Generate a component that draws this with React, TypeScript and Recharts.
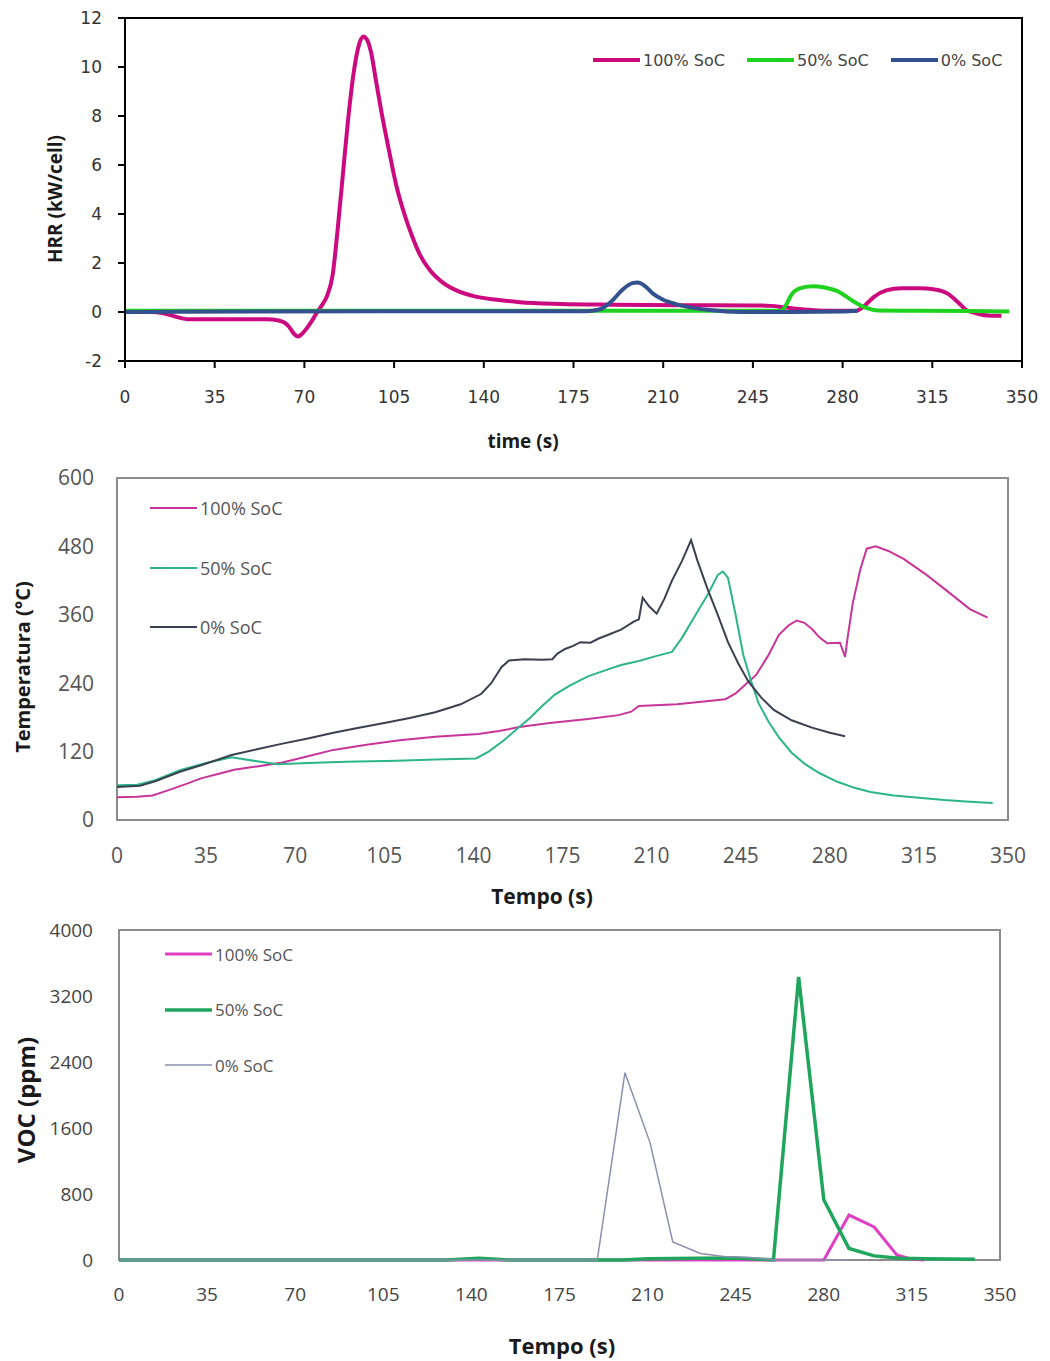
import { Label, Legend, Line, LineChart, ReferenceArea, XAxis, YAxis } from "recharts";

type Row = [number, number];

const timeTicks = [0, 35, 70, 105, 140, 175, 210, 245, 280, 315, 350];
const hrrTicks = [-2, 0, 2, 4, 6, 8, 10, 12];
const tempTicks = [0, 120, 240, 360, 480, 600];
const vocTicks = [0, 800, 1600, 2400, 3200, 4000];

const names = ["100% SoC", "50% SoC", "0% SoC"];

// heat release rate, [time s, kW/cell]
const hrr100: Row[] = [
  [0, 0], [10, 0], [15, -0.05], [20, -0.2], [25, -0.3], [40, -0.3], [55, -0.3], [60, -0.35], [64, -0.6],
  [66, -0.9], [67.5, -1.0], [69, -0.9], [71, -0.65], [73, -0.35], [75, 0.0], [77, 0.3], [79, 0.7], [81, 1.5],
  [83, 3.4], [85, 5.6], [87, 7.8], [89, 9.6], [91, 10.8], [93, 11.25], [94.5, 11.1], [96, 10.6],
  [98, 9.4], [100, 8.2], [103, 6.6], [106, 5.1], [109, 4.0], [112, 3.1], [115, 2.35], [119, 1.7], [124, 1.2],
  [130, 0.85], [136, 0.65], [145, 0.5], [154, 0.4], [170, 0.33], [190, 0.3], [220, 0.28], [245, 0.27],
  [252, 0.25], [258, 0.18], [265, 0.1], [275, 0.05], [285, 0.05], [288, 0.2], [292, 0.6], [297, 0.88],
  [303, 0.97], [310, 0.97], [316, 0.92], [321, 0.75], [325, 0.4], [328, 0.1], [332, -0.05], [338, -0.15],
  [342, -0.15],
];
const hrr50: Row[] = [
  [0, 0.05], [50, 0.05], [100, 0.05], [150, 0.05], [200, 0.05], [240, 0.05], [256, 0.05], [258, 0.3],
  [260, 0.7], [263, 0.95], [268, 1.05], [273, 1.0], [278, 0.85], [284, 0.45], [289, 0.18], [294, 0.06],
  [310, 0.05], [330, 0.04], [345, 0.02],
];
const hrr0: Row[] = [
  [0, 0.0], [50, 0.02], [100, 0.03], [150, 0.03], [180, 0.03], [185, 0.1], [190, 0.45], [194, 0.9],
  [198, 1.18], [200, 1.2], [203, 1.05], [206, 0.75], [210, 0.5], [215, 0.32], [220, 0.2], [228, 0.08],
  [240, 0.0], [260, 0.0], [280, 0.02], [286, 0.05],
];

// surface temperature, [time s, °C]
const temp100: Row[] = [
  [0, 40], [8, 41], [14, 43], [20, 52], [27, 63], [33, 73], [40, 81], [46, 88], [55, 94], [65, 101],
  [75, 112], [85, 123], [98, 132], [111, 140], [125, 146], [142, 151], [150, 156], [158, 163], [170, 170],
  [185, 177], [197, 184], [202, 190], [205, 200], [220, 203], [239, 212], [243, 222], [247, 238], [251, 254],
  [256, 290], [260, 325], [264, 342], [267, 350], [270, 346], [273, 335], [276, 320], [279, 310], [284, 311],
  [286, 286], [287, 320], [289, 380], [292, 440], [294.5, 476], [298, 480], [303, 472], [309, 458],
  [318, 430], [328, 395], [335, 370], [342, 355],
];
const temp50: Row[] = [
  [0, 61], [8, 62], [15, 70], [25, 88], [35, 100], [45, 110], [55, 103], [63, 98], [75, 100], [90, 102],
  [110, 104], [125, 106], [141, 108], [146, 120], [152, 140], [158, 163], [162, 178], [167, 200], [172, 220],
  [178, 236], [185, 252], [192, 263], [198, 272], [205, 279], [212, 288], [218, 295], [222, 320], [227, 358],
  [232, 395], [236, 430], [238, 436], [240, 425], [243, 360], [246, 290], [249, 245], [252, 205], [256, 172],
  [260, 145], [265, 118], [270, 99], [276, 82], [283, 67], [290, 56], [296, 49], [305, 43], [315, 39],
  [325, 35], [335, 32], [344, 30],
];
const temp0: Row[] = [
  [0, 58], [9, 60], [15, 68], [25, 85], [33, 96], [45, 114], [55, 124], [65, 134], [75, 143], [85, 153],
  [95, 162], [105, 170], [115, 179], [125, 189], [135, 203], [143, 221], [147, 240], [151, 268], [154, 280],
  [160, 282], [167, 281], [171, 282], [173, 292], [176, 300], [179, 305], [182, 312], [186, 311], [189, 318],
  [193, 325], [198, 334], [203, 348], [205, 352], [206.5, 390], [209, 375], [212, 362], [215, 388],
  [218, 420], [222, 455], [225.5, 491], [228, 455], [232, 405], [236, 360], [240, 312], [244, 275],
  [248, 243], [253, 215], [258, 193], [265, 175], [273, 162], [280, 153], [286, 147],
];

// VOC concentration, [time s, ppm]
const voc100: Row[] = [
  [0, 0], [100, 0], [200, 0], [270, 0], [280, 0], [290, 545], [300, 400], [309, 60], [315, 10], [320, 0],
];
const voc50: Row[] = [
  [0, 0], [130, 0], [143, 20], [155, 0], [200, 0], [210, 15], [230, 20], [245, 25], [255, 10], [260, 0],
  [270, 3430], [280, 730], [290, 140], [300, 50], [310, 20], [320, 15], [340, 10],
];
const voc0: Row[] = [
  [0, 0], [100, 0], [190, 0], [201, 2270], [211, 1420], [220, 220], [231, 80], [241, 40], [251, 30],
  [261, 0], [290, 0],
];

const pts = (rows: Row[]) => rows.map(([t, v]) => ({ t, v }));

const SANS = "'Open Sans', sans-serif";
const DEJAVU = "'DejaVu Sans', sans-serif";

type LegendEntry = { value?: string; color?: string; payload?: { strokeWidth?: number } };

function SeriesLegend(props: {
  payload?: unknown[];
  vertical?: boolean;
  gap: number;
  lineLen: number;
  fontSize: number;
  font: string;
  color: string;
}) {
  // keep the series order (Legend sorts by name otherwise)
  const items = ((props.payload ?? []) as LegendEntry[])
    .slice()
    .sort((a, b) => names.indexOf(a.value ?? "") - names.indexOf(b.value ?? ""));
  return (
    <div
      style={{
        display: "flex",
        flexDirection: props.vertical ? "column" : "row",
        gap: props.gap,
        fontFamily: props.font,
        fontSize: props.fontSize,
        color: props.color,
        whiteSpace: "nowrap",
      }}
    >
      {items.map((it) => (
        <div key={it.value} style={{ display: "flex", alignItems: "center", height: 24 }}>
          <svg width={props.lineLen} height={10}>
            <line x1={0} x2={props.lineLen} y1={5} y2={5} stroke={it.color} strokeWidth={it.payload?.strokeWidth ?? 2} />
          </svg>
          <span style={{ marginLeft: 3 }}>{it.value}</span>
        </div>
      ))}
    </div>
  );
}

function axisTitle(text: string, x: number, y: number, size: number, rotate = false) {
  return () => (
    <text
      x={x}
      y={y}
      textAnchor="middle"
      dominantBaseline="central"
      transform={rotate ? `rotate(-90 ${x} ${y})` : undefined}
      fontFamily={SANS}
      fontWeight={700}
      fontSize={size}
      fill="#1a1a1a"
    >
      {text}
    </text>
  );
}

function HrrChart() {
  const tick = { fontFamily: DEJAVU, fontSize: 17, fill: "#333" };
  return (
    <LineChart width={1050} height={460} margin={{ top: 18, right: 28, bottom: 0, left: 10 }}>
      <ReferenceArea x1={0} x2={350} y1={-2} y2={12} fill="none" stroke="#000" strokeWidth={2} />
      <XAxis
        dataKey="t"
        type="number"
        domain={[0, 350]}
        ticks={timeTicks}
        height={99}
        stroke="#000"
        strokeWidth={2}
        tickSize={7}
        tickMargin={23}
        tick={tick}
      >
        <Label content={axisTitle("time (s)", 523, 441, 19)} />
      </XAxis>
      <YAxis
        type="number"
        domain={[-2, 12]}
        ticks={hrrTicks}
        width={115}
        stroke="#000"
        strokeWidth={2}
        tickSize={7}
        tickMargin={16}
        tick={tick}
      >
        <Label content={axisTitle("HRR (kW/cell)", 55, 199, 19, true)} />
      </YAxis>
      <Legend
        layout="horizontal"
        verticalAlign="middle"
        align="center"
        wrapperStyle={{ left: 593, top: 48, width: "auto" }}
        content={(p) => (
          <SeriesLegend payload={p.payload as unknown[]} gap={22} lineLen={47} fontSize={16} font={DEJAVU} color="#444" />
        )}
      />
      <Line data={pts(hrr100)} dataKey="v" name={names[0]} type="monotone" stroke="#cc0a80" strokeWidth={4} dot={false} activeDot={false} isAnimationActive={false} />
      <Line data={pts(hrr50)} dataKey="v" name={names[1]} type="monotone" stroke="#1fd21f" strokeWidth={4} dot={false} activeDot={false} isAnimationActive={false} />
      <Line data={pts(hrr0)} dataKey="v" name={names[2]} type="monotone" stroke="#34518f" strokeWidth={4} dot={false} activeDot={false} isAnimationActive={false} />
    </LineChart>
  );
}

function TempChart() {
  const tick = { fontFamily: SANS, fontSize: 21, fill: "#555" };
  return (
    <LineChart width={1050} height={460} margin={{ top: 18, right: 42, bottom: 0, left: 0 }}>
      <ReferenceArea x1={0} x2={350} y1={0} y2={600} fill="none" stroke="#8c8c8c" strokeWidth={2} />
      <XAxis
        dataKey="t"
        type="number"
        domain={[0, 350]}
        ticks={timeTicks}
        height={100}
        axisLine={false}
        tickLine={false}
        tickSize={0}
        tickMargin={28}
        tick={tick}
      >
        <Label content={axisTitle("Tempo (s)", 542, 436, 21)} />
      </XAxis>
      <YAxis
        type="number"
        domain={[0, 600]}
        ticks={tempTicks}
        width={117}
        axisLine={false}
        tickLine={false}
        tickSize={0}
        tickMargin={23}
        tick={tick}
      >
        <Label content={axisTitle("Temperatura (°C)", 22, 207, 20, true)} />
      </YAxis>
      <Legend
        layout="horizontal"
        verticalAlign="middle"
        align="center"
        wrapperStyle={{ left: 150, top: 36, width: "auto" }}
        content={(p) => (
          <SeriesLegend payload={p.payload as unknown[]} vertical gap={35.5} lineLen={47} fontSize={18} font={SANS} color="#555" />
        )}
      />
      <Line data={pts(temp100)} dataKey="v" name={names[0]} type="linear" stroke="#c8359a" strokeWidth={2} dot={false} activeDot={false} isAnimationActive={false} />
      <Line data={pts(temp50)} dataKey="v" name={names[1]} type="linear" stroke="#2db58a" strokeWidth={2} dot={false} activeDot={false} isAnimationActive={false} />
      <Line data={pts(temp0)} dataKey="v" name={names[2]} type="linear" stroke="#3a3f52" strokeWidth={2} dot={false} activeDot={false} isAnimationActive={false} />
    </LineChart>
  );
}

function VocChart() {
  const tick = { fontFamily: SANS, fontSize: 19, fill: "#444" };
  return (
    <LineChart width={1050} height={451} margin={{ top: 20, right: 50, bottom: 0, left: 0 }}>
      <ReferenceArea x1={0} x2={350} y1={0} y2={4000} fill="none" stroke="#8c8c8c" strokeWidth={2} />
      <XAxis
        dataKey="t"
        type="number"
        domain={[0, 350]}
        ticks={timeTicks}
        height={101}
        axisLine={false}
        tickLine={false}
        tickSize={0}
        tickMargin={28}
        tick={tick}
      >
        <Label content={axisTitle("Tempo (s)", 562, 435, 22)} />
      </XAxis>
      <YAxis
        type="number"
        domain={[0, 4000]}
        ticks={vocTicks}
        width={119}
        axisLine={false}
        tickLine={false}
        tickSize={0}
        tickMargin={26}
        tick={tick}
      >
        <Label content={axisTitle("VOC (ppm)", 25, 190, 24, true)} />
      </YAxis>
      <Legend
        layout="horizontal"
        verticalAlign="middle"
        align="center"
        wrapperStyle={{ left: 165, top: 32, width: "auto" }}
        content={(p) => (
          <SeriesLegend payload={p.payload as unknown[]} vertical gap={31.5} lineLen={47} fontSize={17} font={SANS} color="#555" />
        )}
      />
      <Line data={pts(voc100)} dataKey="v" name={names[0]} type="linear" stroke="#df3fc3" strokeWidth={3} dot={false} activeDot={false} isAnimationActive={false} />
      <Line data={pts(voc50)} dataKey="v" name={names[1]} type="linear" stroke="#1fa65c" strokeWidth={3.5} dot={false} activeDot={false} isAnimationActive={false} />
      <Line data={pts(voc0)} dataKey="v" name={names[2]} type="linear" stroke="#8b8fb0" strokeWidth={1.5} dot={false} activeDot={false} isAnimationActive={false} />
    </LineChart>
  );
}

export default function App() {
  return (
    <div style={{ position: "absolute", left: 0, top: 0, width: 1050, height: 1361, background: "#fff" }}>
      <div style={{ position: "absolute", left: 0, top: 0 }}>
        <HrrChart />
      </div>
      <div style={{ position: "absolute", left: 0, top: 460 }}>
        <TempChart />
      </div>
      <div style={{ position: "absolute", left: 0, top: 910 }}>
        <VocChart />
      </div>
    </div>
  );
}
